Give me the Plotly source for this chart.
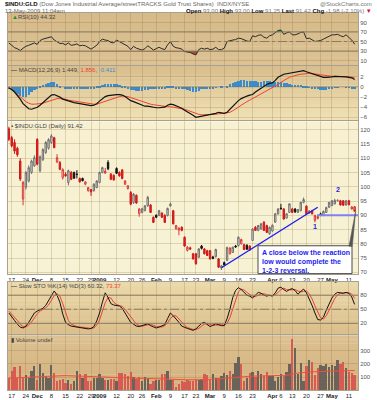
import plotly.graph_objects as go
import pandas as pd

W, H = 377, 400
L, R = 8, 19
PW = W - L - R


def px(x):
    return (x - L) / PW


def py(y):
    return 1 - y / H


holidays = ["2008-11-27", "2008-12-25", "2009-01-01", "2009-01-19", "2009-02-16", "2009-04-10"]
dates = [d.strftime("%Y-%m-%d") for d in pd.bdate_range("2008-11-14", "2009-05-13")]
dates = [d for d in dates if d not in holidays]

opens = [120.3, 117.2, 115.5, 113.5, 109.0, 95.7, 99.8, 102.0, 105.0, 107.3,
         116.6, 105.6, 109.5, 112.0, 113.5, 115.5, 117.2, 108.7, 108.5, 103.2,
         104.4, 101.5, 105.0, 105.0, 104.4, 102.9, 102.9, 100.9, 98.6, 99.0,
         98.6, 99.7, 101.5, 105.0, 104.8, 108.5, 104.4, 104.0, 106.4, 105.0,
         105.9, 100.9, 99.4, 98.0, 94.5, 97.0, 90.6, 91.0, 91.6, 93.3,
         93.6, 89.3, 90.0, 89.9, 90.8, 90.0, 89.9, 93.3, 91.6, 85.2,
         84.8, 85.8, 82.3, 77.7, 78.6, 76.5, 76.5, 75.3, 79.2, 78.2,
         77.6, 77.6, 75.4, 75.5, 74.7, 71.5, 73.4, 74.2, 76.5, 77.0,
         79.2, 79.4, 80.0, 79.7, 79.5, 79.2, 81.2, 85.8, 84.7, 85.2,
         87.6, 86.4, 83.5, 84.5, 87.6, 90.5, 92.5, 92.2, 89.0, 91.0,
         92.2, 92.2, 91.0, 91.6, 94.5, 93.2, 90.8, 91.6, 88.2, 88.9,
         90.5, 89.9, 91.0, 92.8, 93.4, 94.0, 95.1, 95.1, 95.1, 93.6,
         95.1, 92.2, 93.0]
highs = [121.0, 117.8, 116.6, 114.0, 110.0, 102.0, 105.5, 107.5, 109.5, 111.0,
         117.0, 111.0, 113.5, 116.0, 117.0, 118.4, 117.5, 111.4, 109.0, 106.5,
         105.0, 106.0, 105.5, 105.3, 105.8, 103.2, 103.2, 101.9, 99.9, 99.2,
         101.2, 102.3, 105.3, 107.0, 106.6, 109.3, 104.8, 104.3, 106.8, 105.4,
         106.2, 102.3, 100.6, 98.5, 97.8, 97.3, 92.5, 92.6, 93.6, 96.8,
         93.9, 89.6, 90.3, 91.9, 91.0, 90.3, 92.7, 94.5, 91.9, 86.6,
         85.8, 86.1, 82.6, 79.2, 79.0, 76.8, 76.8, 78.5, 79.6, 78.5,
         77.9, 77.8, 75.8, 78.3, 75.0, 72.6, 73.8, 79.0, 78.8, 79.0,
         79.6, 82.6, 81.8, 80.0, 79.8, 79.5, 85.5, 86.2, 86.6, 87.3,
         87.9, 86.7, 86.0, 86.8, 90.8, 92.5, 94.0, 92.5, 90.8, 94.2,
         92.6, 92.5, 92.2, 94.8, 96.2, 93.5, 91.8, 91.9, 90.2, 90.2,
         90.9, 91.6, 93.0, 94.7, 95.3, 95.8, 95.6, 95.4, 95.3, 95.3,
         95.4, 93.2, 93.0]
lows = [116.0, 113.8, 111.5, 110.5, 102.0, 93.5, 99.0, 101.5, 104.5, 107.0,
        107.5, 105.0, 109.0, 111.5, 113.0, 115.0, 113.5, 108.3, 105.8, 102.5,
        103.5, 100.5, 102.3, 102.8, 102.9, 101.5, 101.9, 100.5, 98.3, 96.8,
        98.3, 99.5, 101.2, 104.7, 104.5, 105.8, 102.3, 102.1, 104.5, 103.5,
        102.6, 100.6, 99.0, 93.5, 94.0, 94.0, 89.5, 90.7, 91.4, 93.0,
        90.8, 87.3, 89.0, 89.7, 89.1, 87.3, 89.6, 93.0, 86.8, 85.0,
        83.0, 84.4, 79.0, 77.3, 77.8, 74.5, 72.7, 75.0, 78.0, 76.3,
        75.7, 74.5, 74.6, 75.2, 71.5, 70.8, 72.4, 74.0, 76.3, 76.8,
        78.7, 79.0, 79.8, 77.8, 77.9, 77.6, 81.0, 84.5, 84.4, 85.0,
        84.5, 83.8, 83.2, 84.3, 87.3, 90.2, 92.0, 88.5, 88.8, 90.8,
        90.8, 90.8, 90.8, 91.4, 94.2, 90.3, 90.5, 90.3, 87.5, 88.6,
        89.7, 89.7, 90.8, 92.6, 93.2, 93.8, 94.8, 93.4, 93.4, 93.4,
        93.5, 92.0, 91.25]
closes = [116.6, 114.3, 112.5, 111.2, 102.7, 101.5, 105.0, 106.7, 109.0, 110.2,
          107.9, 110.5, 113.0, 115.5, 116.5, 117.8, 113.7, 110.2, 106.1, 106.0,
          103.8, 105.6, 102.6, 103.0, 104.3, 101.7, 102.1, 101.7, 99.7, 98.2,
          100.9, 102.0, 105.0, 106.7, 105.5, 106.3, 102.6, 102.4, 104.7, 103.8,
          102.9, 102.0, 100.3, 93.9, 97.4, 94.3, 92.2, 92.3, 93.3, 96.3,
          91.0, 87.5, 89.3, 91.6, 89.3, 87.5, 92.4, 93.9, 87.0, 86.4,
          85.5, 84.7, 79.2, 78.8, 78.2, 74.7, 73.0, 78.2, 78.4, 76.5,
          75.9, 74.7, 74.9, 78.0, 71.8, 72.3, 72.6, 78.7, 78.5, 78.8,
          78.9, 82.3, 81.5, 78.0, 78.1, 77.8, 85.2, 84.7, 86.4, 87.0,
          84.7, 84.0, 85.8, 86.5, 90.5, 92.2, 92.3, 88.7, 90.5, 94.0,
          91.0, 91.2, 92.0, 94.5, 95.5, 90.5, 91.5, 90.5, 89.9, 89.6,
          89.9, 91.4, 92.7, 94.5, 95.1, 95.2, 95.2, 93.6, 93.5, 95.1,
          93.7, 92.9, 91.42]

rsi = [47, 41, 37, 35, 31, 36, 40, 42, 45, 47,
       44, 52, 55, 57, 59, 60, 53, 50, 46, 46,
       43, 47, 42, 43, 45, 41, 42, 41, 38, 34,
       38, 42, 50, 55, 53, 52, 48, 47, 53, 50,
       46, 44, 40, 33, 40, 36, 34, 32, 35, 41,
       37, 32, 35, 38, 35, 33, 43, 50, 40, 37,
       36, 34, 29, 28, 27, 24, 22, 33, 36, 34,
       36, 33, 34, 38, 33, 33, 36, 50, 52, 53,
       54, 57, 56, 53, 51, 50, 62, 60, 63, 64,
       59, 57, 62, 64, 69, 73, 74, 65, 68, 70,
       64, 64, 66, 69, 70, 56, 57, 54, 50, 51,
       52, 55, 58, 61, 64, 64, 65, 62, 60, 64,
       58, 53, 44.32]

macd = [-0.2, -0.5, -1.0, -1.6, -2.4, -3.3, -3.9, -4.3, -4.4, -4.2,
        -4.0, -3.6, -3.1, -2.6, -2.1, -1.6, -1.5, -1.7, -2.0, -2.4,
        -2.6, -2.8, -3.0, -3.1, -3.2, -3.3, -3.4, -3.5, -3.6, -3.7,
        -3.6, -3.3, -2.8, -2.3, -1.9, -1.7, -1.6, -1.5, -1.5, -1.5,
        -1.6, -1.9, -2.3, -2.7, -2.9, -3.1, -3.3, -3.6, -3.8, -3.8,
        -3.9, -4.1, -4.1, -4.1, -4.1, -4.0, -3.6, -3.4, -3.5, -3.7,
        -3.9, -4.2, -4.6, -4.9, -5.2, -5.6, -6.0, -5.9, -5.8, -5.7,
        -5.6, -5.5, -5.4, -5.2, -5.0, -5.1, -5.2, -5.0, -4.4, -3.8,
        -3.2, -2.7, -2.3, -2.0, -1.8, -1.6, -1.5, -1.0, -0.6, -0.3,
        0.2, 0.5, 0.7, 0.8, 1.3, 1.9, 2.2, 2.5, 2.6, 2.7,
        2.8, 2.9, 3.0, 3.1, 3.2, 3.0, 2.8, 2.6, 2.4, 2.2,
        2.0, 1.9, 1.9, 1.9, 2.0, 2.1, 2.1, 2.1, 2.1, 2.0,
        1.9, 1.8, 1.449]
macd_signal = [-0.1, -0.4, -1.0, -1.5, -2.0, -2.5, -2.9, -3.2, -3.4, -3.4,
               -3.4, -3.3, -3.2, -3.0, -2.8, -2.6, -2.4, -2.3, -2.3, -2.3,
               -2.4, -2.6, -2.7, -2.8, -2.9, -3.0, -3.1, -3.2, -3.3, -3.4,
               -3.4, -3.4, -3.2, -3.0, -2.8, -2.6, -2.4, -2.2, -2.0, -1.9,
               -1.8, -1.8, -1.9, -2.1, -2.3, -2.5, -2.7, -2.9, -3.1, -3.3,
               -3.4, -3.5, -3.6, -3.7, -3.8, -3.9, -3.9, -3.9, -4.0, -4.0,
               -4.1, -4.2, -4.4, -4.6, -4.8, -5.0, -5.3, -5.4, -5.5, -5.5,
               -5.5, -5.5, -5.5, -5.4, -5.3, -5.3, -5.2, -5.1, -5.0, -4.7,
               -4.4, -4.0, -3.6, -3.2, -2.9, -2.6, -2.3, -2.0, -1.7, -1.4,
               -1.1, -0.8, -0.5, -0.2, 0.1, 0.5, 0.9, 1.3, 1.6, 1.9,
               2.1, 2.3, 2.4, 2.5, 2.6, 2.7, 2.7, 2.6, 2.6, 2.5,
               2.4, 2.3, 2.2, 2.1, 2.1, 2.1, 2.1, 2.1, 2.1, 2.0,
               2.0, 1.95, 1.856]
macd_hist = [-0.2, -0.5, -0.9, -1.3, -1.7, -2.0, -1.9, -1.5, -1.0, -0.6,
             -0.2, 0.2, 0.4, 0.7, 0.9, 1.1, 1.1, 0.6, 0.3, 0.0,
             -0.2, -0.2, -0.3, -0.3, -0.3, -0.3, -0.3, -0.3, -0.3, -0.3,
             -0.2, 0.1, 0.3, 0.5, 0.6, 0.7, 0.7, 0.7, 0.6, 0.5,
             0.3, 0.1, -0.2, -0.5, -0.6, -0.7, -0.7, -0.7, -0.6, -0.5,
             -0.4, -0.4, -0.4, -0.3, -0.3, -0.2, 0.1, 0.2, 0.1, -0.2,
             -0.3, -0.3, -0.4, -0.6, -0.8, -0.9, -1.0, -0.8, -0.4, -0.3,
             -0.2, -0.2, -0.2, -0.1, 0.0, 0.1, 0.0, 0.3, 0.6, 0.9,
             1.1, 1.3, 1.4, 1.4, 1.3, 1.2, 1.2, 1.2, 1.1, 1.1,
             1.2, 1.2, 1.2, 1.1, 1.1, 1.0, 1.0, 0.9, 0.8, 0.6,
             0.5, 0.4, 0.4, 0.4, 0.3, 0.1, -0.1, -0.2, -0.3, -0.4,
             -0.5, -0.5, -0.5, -0.4, -0.2, -0.1, -0.1, 0.0, 0.0, -0.1,
             -0.1, -0.2, -0.411]

sto_k = [42, 35, 26, 18, 12, 10, 14, 22, 32, 42,
         46, 49, 52, 58, 68, 80, 89, 80, 65, 40,
         22, 17, 14, 13, 12, 12, 11, 10, 8, 9,
         13, 25, 42, 65, 85, 75, 62, 59, 58, 57,
         52, 42, 32, 22, 18, 14, 13, 15, 18, 19,
         15, 13, 10, 12, 15, 17, 30, 42, 36, 30,
         22, 14, 11, 9, 7, 5, 8, 13, 20, 22,
         17, 13, 16, 19, 17, 15, 15, 30, 50, 75,
         90, 96, 92, 85, 80, 78, 74, 80, 86, 84,
         80, 78, 80, 78, 85, 95, 97, 92, 88, 92,
         94, 90, 82, 88, 93, 85, 72, 58, 42, 28,
         27, 33, 48, 62, 74, 82, 86, 85, 84, 86,
         84, 76, 60.32]
sto_d = [46, 40, 33, 26, 18, 13, 12, 16, 23, 32,
         40, 46, 49, 53, 59, 69, 79, 83, 78, 62,
         42, 26, 18, 15, 13, 12, 12, 11, 10, 9,
         10, 16, 27, 44, 64, 75, 74, 65, 60, 58,
         56, 50, 42, 32, 24, 18, 15, 14, 15, 17,
         17, 16, 13, 12, 12, 15, 21, 30, 36, 36,
         29, 22, 16, 11, 9, 7, 7, 9, 14, 18,
         20, 17, 15, 16, 17, 17, 16, 20, 32, 52,
         72, 87, 93, 91, 86, 81, 77, 77, 80, 83,
         83, 81, 79, 79, 81, 86, 92, 95, 92, 91,
         91, 92, 89, 87, 88, 89, 83, 72, 57, 43,
         32, 29, 36, 48, 61, 73, 81, 84, 85, 85,
         85, 82, 73.37]

volume = [91, 142, 172, 91, 180, 91, 112, 91, 142, 180,
          78, 198, 129, 96, 91, 193, 129, 66, 78, 86,
          53, 71, 46, 66, 147, 122, 91, 122, 66, 66,
          91, 91, 117, 91, 71, 71, 86, 86, 66, 129,
          129, 117, 104, 137, 96, 86, 96, 66, 96, 91,
          46, 66, 78, 78, 117, 117, 147, 71, 78, 20,
          41, 66, 61, 71, 66, 66, 71, 78, 86, 117,
          112, 78, 117, 91, 91, 104, 129, 112, 142, 117,
          205, 248, 198, 66, 91, 129, 137, 96, 142, 117,
          104, 137, 104, 104, 66, 96, 117, 104, 137, 198,
          390, 320, 122, 205, 66, 180, 231, 213, 112, 167,
          188, 180, 198, 172, 193, 180, 231, 198, 213, 167,
          137, 130, 110]
volume_ma = [91, 92, 93, 94, 96, 97, 98, 99, 100, 102,
             104, 106, 108, 109, 110, 111, 112, 112, 112, 112,
             111, 110, 109, 108, 108, 107, 106, 105, 104, 103,
             102, 101, 100, 99, 98, 97, 96, 95, 95, 94,
             93, 93, 92, 92, 91, 91, 90, 90, 89, 89,
             88, 88, 87, 87, 86, 86, 85, 85, 84, 83,
             82, 81, 80, 79, 79, 78, 78, 78, 78, 79,
             80, 81, 82, 83, 84, 86, 88, 90, 92, 94,
             96, 99, 102, 104, 105, 106, 107, 107, 108, 108,
             109, 109, 110, 110, 111, 111, 112, 113, 114, 116,
             122, 128, 130, 132, 135, 137, 139, 140, 141, 142,
             143, 143, 144, 144, 145, 146, 147, 148, 150, 152,
             153, 152, 150]

tick_dates = ["2008-11-17", "2008-11-24", "2008-12-01", "2008-12-08", "2008-12-15",
              "2008-12-22", "2008-12-29", "2009-01-02", "2009-01-12", "2009-01-20",
              "2009-01-26", "2009-02-02", "2009-02-09", "2009-02-17", "2009-02-23",
              "2009-03-02", "2009-03-09", "2009-03-16", "2009-03-23", "2009-04-01",
              "2009-04-06", "2009-04-13", "2009-04-20", "2009-04-27", "2009-05-01",
              "2009-05-11"]
tick_text = ["17", "24", "<b>Dec</b>", "8", "15", "22", "29", "<b>2009</b>", "12", "20",
             "26", "<b>Feb</b>", "9", "17", "23", "<b>Mar</b>", "9", "16", "23", "<b>Apr</b>",
             "6", "13", "20", "27", "<b>May</b>", "11"]

# annotation data (chartist's drawing)
trend_x = ["2009-03-06", "2009-04-24"]
trend_y = [71.6, 92.8]
reaction_level = 90.0
reaction_start = "2009-04-24"
point_labels = ["1", "2"]
point_x = ["2009-04-23", "2009-05-05"]
point_y = [86.2, 99.2]

n = len(dates)
for arr in [opens, highs, lows, closes, rsi, macd, macd_signal, macd_hist,
            sto_k, sto_d, volume, volume_ma]:
    assert len(arr) == n, len(arr)

FONT = "Liberation Sans"
XR = [-0.31, 123.2]

up_idx, dn_idx = [], []
for i in range(n - 1):
    prev = closes[i - 1] if i > 0 else opens[i]
    (up_idx if closes[i] >= prev else dn_idx).append(i)
last_idx = [n - 1]


def sub(arr, idx):
    return [arr[i] for i in idx]


def candle(idx, inc_line, inc_fill, dec_line, dec_fill):
    return go.Candlestick(
        x=sub(dates, idx), open=sub(opens, idx), high=sub(highs, idx),
        low=sub(lows, idx), close=sub(closes, idx),
        increasing=dict(line=dict(color=inc_line, width=1), fillcolor=inc_fill),
        decreasing=dict(line=dict(color=dec_line, width=1), fillcolor=dec_fill),
        whiskerwidth=0, xaxis="x3", yaxis="y3", showlegend=False, hoverinfo="skip")


traces = []
# RSI shading
rsi_lo = [min(v, 30) for v in rsi]
rsi_hi = [max(v, 70) for v in rsi]
traces.append(go.Scatter(x=dates, y=[30] * n, mode="lines", line=dict(width=0),
                         xaxis="x", yaxis="y", showlegend=False, hoverinfo="skip"))
traces.append(go.Scatter(x=dates, y=rsi_lo, mode="lines", line=dict(width=0),
                         fill="tonexty", fillcolor="rgba(160,60,40,0.85)",
                         xaxis="x", yaxis="y", showlegend=False, hoverinfo="skip"))
traces.append(go.Scatter(x=dates, y=[70] * n, mode="lines", line=dict(width=0),
                         xaxis="x", yaxis="y", showlegend=False, hoverinfo="skip"))
traces.append(go.Scatter(x=dates, y=rsi_hi, mode="lines", line=dict(width=0),
                         fill="tonexty", fillcolor="rgba(40,140,50,0.85)",
                         xaxis="x", yaxis="y", showlegend=False, hoverinfo="skip"))
traces.append(go.Scatter(x=dates, y=rsi, mode="lines", line=dict(color="#2a2a2a", width=1),
                         xaxis="x", yaxis="y", showlegend=False, hoverinfo="skip"))
# MACD
traces.append(go.Bar(x=dates, y=macd_hist, marker=dict(color="#3a8ccc", line=dict(width=0)),
                     width=0.8, xaxis="x2", yaxis="y2", showlegend=False, hoverinfo="skip"))
traces.append(go.Scatter(x=dates, y=macd_signal, mode="lines", line=dict(color="#f04030", width=1),
                         xaxis="x2", yaxis="y2", showlegend=False, hoverinfo="skip"))
traces.append(go.Scatter(x=dates, y=macd, mode="lines", line=dict(color="#111111", width=1.2),
                         xaxis="x2", yaxis="y2", showlegend=False, hoverinfo="skip"))
# Price candles
traces.append(candle(up_idx, "#6e6e6e", "#ece8dc", "#111111", "#111111"))
traces.append(candle(dn_idx, "#d83a3a", "#f6e6d2", "#d01818", "#d42222"))
traces.append(candle(last_idx, "#d01818", "#b8d848", "#d01818", "#b8d848"))
traces.append(go.Scatter(x=trend_x, y=trend_y, mode="lines", line=dict(color="#1c1cf0", width=1.4),
                         xaxis="x3", yaxis="y3", showlegend=False, hoverinfo="skip"))
# STO
traces.append(go.Scatter(x=dates, y=sto_d, mode="lines", line=dict(color="#f04030", width=1),
                         xaxis="x4", yaxis="y4", showlegend=False, hoverinfo="skip"))
traces.append(go.Scatter(x=dates, y=sto_k, mode="lines", line=dict(color="#111111", width=1),
                         xaxis="x4", yaxis="y4", showlegend=False, hoverinfo="skip"))
# Volume
vcol = []
for i in range(n):
    prev = closes[i - 1] if i > 0 else opens[i]
    vcol.append("rgba(100,95,88,0.95)" if closes[i] >= prev else "rgba(214,86,80,0.95)")
traces.append(go.Bar(x=dates, y=volume, marker=dict(color=vcol, line=dict(width=0)), width=0.78,
                     xaxis="x5", yaxis="y5", showlegend=False, hoverinfo="skip"))
traces.append(go.Scatter(x=dates, y=volume_ma, mode="lines", line=dict(color="#f05038", width=1),
                         xaxis="x5", yaxis="y5", showlegend=False, hoverinfo="skip"))

fig = go.Figure(data=traces)

panels = {
    "rsi": (13, 65), "macd": (66, 121), "price": (122, 275), "sto": (283, 336), "vol": (337, 392)}
LINEC = "#a8a090"
TAN_GRID = "rgba(130,100,50,0.22)"
PRICE_GRID = "rgba(160,140,90,0.30)"


def xax(anchor, grid, labels=False):
    return dict(type="category", categoryorder="array", categoryarray=dates, range=XR,
                tickvals=tick_dates, ticktext=tick_text, showgrid=True, gridcolor=grid,
                gridwidth=1, showticklabels=labels, ticks="", tickangle=0, showline=True, mirror=True,
                linecolor=LINEC, linewidth=1, zeroline=False, anchor=anchor, domain=[0, 1],
                tickfont=dict(family=FONT, size=6, color="#222"), fixedrange=True,
                rangeslider=dict(visible=False))


def yax(panel, rng, tv, grid):
    top, bot = panels[panel]
    return dict(domain=[py(bot), py(top)], range=rng, tickvals=tv, side="right", showgrid=True,
                gridcolor=grid, gridwidth=1, ticks="", showline=True, mirror=True,
                linecolor=LINEC, linewidth=1, zeroline=False, fixedrange=True,
                tickfont=dict(family=FONT, size=6, color="#555"))


layout = dict(
    width=W, height=H, margin=dict(l=L, r=R, t=0, b=0),
    paper_bgcolor="white", plot_bgcolor="rgba(0,0,0,0)",
    showlegend=False, barmode="overlay", bargap=0,
    xaxis=xax("y", TAN_GRID), xaxis2=xax("y2", TAN_GRID),
    xaxis3=xax("y3", PRICE_GRID, labels=True), xaxis4=xax("y4", TAN_GRID),
    xaxis5=xax("y5", TAN_GRID, labels=True),
    yaxis=yax("rsi", [1.5, 109.8], [10, 30, 50, 70, 90], TAN_GRID),
    yaxis2=yax("macd", [-6.6, 4.2], [-6, -4, -2, 0, 2], TAN_GRID),
    yaxis3=yax("price", [69.55, 122.9], list(range(70, 121, 5)), PRICE_GRID),
    yaxis4=yax("sto", [-3.5, 109], [20, 50, 80], TAN_GRID),
    yaxis5=yax("vol", [0, 420], [100, 200, 300], TAN_GRID),
)
fig.update_layout(**layout)

shapes = []


def bands(top, bot, c1, c2, nb=14):
    h = (bot - top) / nb
    for k in range(nb):
        t = (k + 0.5) / nb
        c = tuple(round(c1[j] + (c2[j] - c1[j]) * t) for j in range(3))
        shapes.append(dict(type="rect", xref="paper", yref="paper", x0=0, x1=1,
                           y0=py(top + (k + 1) * h + 0.4), y1=py(top + k * h),
                           fillcolor="rgb(%d,%d,%d)" % c, line=dict(width=0), layer="below"))


bands(*panels["rsi"], (214, 186, 138), (220, 194, 148))
bands(*panels["macd"], (216, 189, 141), (241, 227, 182))
bands(*panels["price"], (247, 240, 207), (249, 243, 214), nb=2)
bands(*panels["sto"], (235, 218, 172), (218, 190, 140))
bands(*panels["vol"], (221, 193, 146), (211, 177, 125))

# reference lines
for yv, dash in [(70, "solid"), (30, "solid"), (50, "dashdot")]:
    shapes.append(dict(type="line", xref="x domain", yref="y", x0=0, x1=1, y0=yv, y1=yv,
                       line=dict(color="#8c7c62", width=1, dash=dash)))
for yv, dash in [(80, "solid"), (20, "solid"), (50, "dashdot")]:
    shapes.append(dict(type="line", xref="x4 domain", yref="y4", x0=0, x1=1, y0=yv, y1=yv,
                       line=dict(color="#8c7c62", width=1, dash=dash)))
shapes.append(dict(type="line", xref="x2 domain", yref="y2", x0=0, x1=1, y0=0, y1=0,
                   line=dict(color="rgba(120,100,70,0.35)", width=1)))

# reaction low level
shapes.append(dict(type="line", xref="x3", yref="y3", x0=dates.index(reaction_start) - 0.2,
                   x1=XR[1], y0=reaction_level, y1=reaction_level,
                   line=dict(color="#8080f0", width=2)))

# callout box + pointer
shapes.append(dict(type="rect", xref="paper", yref="paper", x0=px(258), x1=px(352),
                   y0=py(275), y1=py(247), fillcolor="white",
                   line=dict(color="#4a4a4a", width=1)))
shapes.append(dict(type="path", xref="paper", yref="paper",
                   path="M %f,%f L %f,%f L %f,%f Z" % (px(349), py(247.5), px(355.6), py(212.5),
                                                       px(352.3), py(247.5)),
                   fillcolor="#555555", line=dict(color="#555555", width=0.6)))

fig.update_layout(shapes=shapes)

ann = []


def text(x, y, s, size=6, color="#333", anchor="left"):
    ann.append(dict(xref="paper", yref="paper", x=px(x), y=py(y), text=s,
                    showarrow=False, xanchor=anchor, yanchor="middle",
                    font=dict(family=FONT, size=size, color=color)))


text(3, 4.5, "<b>$INDU:GLD</b> <span style='color:#666'>(Dow Jones Industrial Average/streetTRACKS Gold Trust Shares)  INDX/NYSE</span>",
     size=6, color="#111")
text(374, 4.5, "@StockCharts.com", size=6, color="#777", anchor="right")
text(3, 11.5, "13-May-2009 11:04am", size=6, color="#666")
text(374, 11.5, "<b>Open</b> <span style='color:#777'>93.00</span> <b>High</b> <span style='color:#777'>93.00</span> "
     "<b>Low</b> <span style='color:#777'>91.25</span> <b>Last</b> <span style='color:#777'>91.42</span> "
     "<b>Chg</b> <span style='color:#777'>-1.98 (-2.10%)</span> <span style='color:#d01010'>▼</span>",
     size=6, color="#111", anchor="right")

text(9.5, 17.5, "<span style='color:#2e8a2e'>▲</span>RSI(10) 44.32", size=6, color="#444")
text(9, 70.7, "<b>—</b> MACD(12,26,9) 1.449, <span style='color:#f04030'>1.856</span>, "
     "<span style='color:#3a8ccc'>-0.411</span>", size=6, color="#444")
text(9, 126.3, "▪ $INDU:GLD (Daily) 91.42", size=6, color="#444")
text(9, 287, "<b>—</b> Slow STO %K(14) %D(3) 60.32, <span style='color:#f04030'>73.37</span>",
     size=6, color="#444")
text(9, 341.8, "▮ Volume undef", size=6, color="#444")

ann.append(dict(xref="paper", yref="paper", x=px(260), y=py(248), xanchor="left", yanchor="top",
                text="<b>A close below the reaction<br>low would complete the<br>1-2-3 reversal.</b>",
                align="left", showarrow=False,
                font=dict(family=FONT, size=7, color="#1c1cf0")))
for lab, xd, yv in zip(point_labels, point_x, point_y):
    ann.append(dict(xref="x3", yref="y3", x=dates.index(xd), y=yv, text="<b>%s</b>" % lab,
                    showarrow=False, font=dict(family=FONT, size=7, color="#2424d8")))

fig.update_layout(annotations=ann)
fig.write_html("out.html", config={"displayModeBar": False},
               post_script="document.body.style.margin='0px';")
